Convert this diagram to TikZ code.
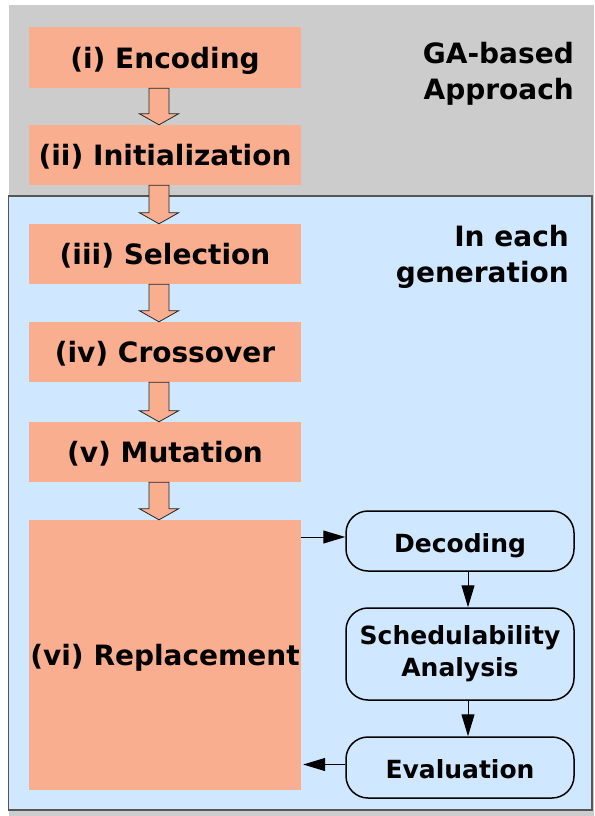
\documentclass[tikz,border=0pt]{standalone}
\usepackage{fontspec}
\setmainfont{DejaVu Sans}
\usetikzlibrary{calc,arrows.meta}
\definecolor{bggray}{RGB}{204,204,204}
\definecolor{lightblue}{RGB}{207,231,255}
\definecolor{salmon}{RGB}{249,174,144}
\definecolor{framegray}{RGB}{85,85,85}
\tikzset{
 stepbox/.style={fill=salmon, minimum width=272pt, inner sep=0pt, text height=21pt, text depth=0pt, font=\bfseries\fontsize{28}{34}\selectfont},
 roundbox/.style={draw=black, line width=1.5pt, fill=lightblue, rounded corners=22pt, minimum width=228pt, inner sep=0pt, align=center, font=\bfseries\fontsize{25}{32}\selectfont},
 barrow/.style={fill=salmon, draw=black!85, line width=0.8pt, line join=miter},
 conn/.style={draw=black, line width=1pt, -{Triangle[length=22pt,width=13pt]}},
 titletext/.style={align=right, inner sep=0pt, font=\bfseries\fontsize{28}{36}\selectfont}
}
\newcommand\blockarrow[2]{%
 \draw[barrow] let \p1=($(#1.south)+(-6,0)$), \p2=($(#2.north)+(-6,0)$) in
 (\x1-10pt,\y1) -- (\x1+10pt,\y1) -- (\x1+10pt,\y2+11pt) -- (\x1+19.5pt,\y2+11pt) -- (\x1,\y2) -- (\x1-19.5pt,\y2+11pt) -- (\x1-10pt,\y2+11pt) -- cycle;}
\begin{document}
\begin{tikzpicture}[x=1pt,y=-1pt]
\useasboundingbox (0,0) rectangle (594,816);
\fill[white] (0,0) rectangle (594,816);
\fill[bggray] (9,5) rectangle (594,816);
\draw[framegray, fill=lightblue, line width=1.2pt] (8.6,196) rectangle (592,810);

\node[stepbox, minimum height=61pt] (enc) at (165,57.5) {(i) Encoding};
\node[stepbox, minimum height=60pt] (ini) at (165,155) {(ii) Initialization};
\node[stepbox, minimum height=60pt] (sel) at (165,254) {(iii) Selection};
\node[stepbox, minimum height=60pt] (cro) at (165,352) {(iv) Crossover};
\node[stepbox, minimum height=60pt] (mut) at (165,452) {(v) Mutation};
\node[stepbox, minimum height=270pt] (rep) at (165,655) {(vi) Replacement};

\blockarrow{enc}{ini}
\blockarrow{ini}{sel}
\blockarrow{sel}{cro}
\blockarrow{cro}{mut}
\blockarrow{mut}{rep}

\node[roundbox, minimum height=60pt, text height=22pt, text depth=0pt] (dec) at (460,541) {Decoding};
\node[roundbox, minimum height=92pt] (sch) at (460,654) {Schedulability\\Analysis};
\node[roundbox, minimum height=61pt, text height=22pt, text depth=0pt] (eva) at (460,767.5) {Evaluation};

\node[titletext, anchor=north east] (ga) at (574,42) {GA-based\\Approach};
\node[titletext, anchor=north east] (gen) at (569,225) {In each\\generation};

\draw[conn] ($(rep.east |- dec.west)+(0,-4)$) -- ($(dec.west)+(0,-4)$);
\draw[conn] ($(dec.south)+(8,0)$) -- ($(sch.north)+(8,0)$);
\draw[conn] ($(sch.south)+(8,0)$) -- ($(eva.north)+(8,0)$);
\draw[conn] ($(eva.west)+(0,-3)$) -- ($(rep.east |- eva.west)+(2,-3)$);
\end{tikzpicture}
\end{document}
